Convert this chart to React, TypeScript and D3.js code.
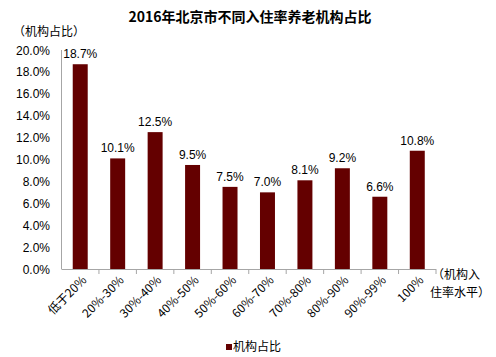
import React from "react";
import * as d3 from "d3";

const categories = ["低于20%", "20%-30%", "30%-40%", "40%-50%", "50%-60%", "60%-70%", "70%-80%", "80%-90%", "90%-99%", "100%"];
const values = [18.7, 10.1, 12.5, 9.5, 7.5, 7.0, 8.1, 9.2, 6.6, 10.8];
const yTicks = [0, 2, 4, 6, 8, 10, 12, 14, 16, 18, 20];

const W = 496, H = 357;
const left = 61.5, right = 436, top = 50, bottom = 269;
const font = "'Liberation Sans', Arial, sans-serif";
const cjk = "'Noto Sans CJK SC', 'Liberation Sans', sans-serif";
const barColor = "#640000";

export default function App() {
  const x = d3.scaleBand<string>().domain(categories).range([left, right]).paddingInner(0.6).paddingOuter(0.3);
  const xb = d3.scaleBand<string>().domain(categories).range([left, right]);
  const y = d3.scaleLinear().domain([0, 20]).range([bottom, top]);
  return (
    <svg width={W} height={H} style={{ position: "absolute", left: 0, top: 0 }}>
      <rect width={W} height={H} fill="#fff" />
      <text x={250} y={22} textAnchor="middle" fontFamily={cjk} fontWeight="bold" fontSize={14}>2016年北京市不同入住率养老机构占比</text>
      <text x={13} y={36} fontFamily={cjk} fontSize={12}>（机构占比）</text>
      {yTicks.map(t => (
        <text key={t} x={50} y={y(t) + 4.5} textAnchor="end" fontFamily={font} fontSize={12}>{t.toFixed(1)}%</text>
      ))}
      <line x1={left} x2={left} y1={top} y2={bottom} stroke="#a6a6a6" />
      <line x1={left} x2={right} y1={bottom + 0.5} y2={bottom + 0.5} stroke="#a6a6a6" />
      {categories.map((c, i) => (
        <line key={c} x1={xb(c)! + xb.bandwidth()} x2={xb(c)! + xb.bandwidth()} y1={bottom} y2={bottom + 5} stroke="#a6a6a6" />
      ))}
      {categories.map((c, i) => (
        <g key={c}>
          <rect x={x(c)} y={y(values[i])} width={x.bandwidth()} height={bottom - y(values[i])} fill={barColor} />
          <text x={x(c)! + x.bandwidth() / 2} y={y(values[i]) - 6} textAnchor="middle" fontFamily={font} fontSize={12}>{values[i].toFixed(1)}%</text>
          <text transform={`translate(${xb(c)! + xb.bandwidth() / 2 + 7},${bottom + 12}) rotate(-45)`} textAnchor="end" fontFamily={cjk} fontSize={12}>{c}</text>
        </g>
      ))}
      <text x={432} y={279} fontFamily={cjk} fontSize={12}>（机构入</text>
      <text x={430} y={297} fontFamily={cjk} fontSize={12}>住率水平）</text>
      <rect x={226} y={344} width={6} height={6} fill={barColor} />
      <text x={233} y={351} fontFamily={cjk} fontSize={12}>机构占比</text>
    </svg>
  );
}
